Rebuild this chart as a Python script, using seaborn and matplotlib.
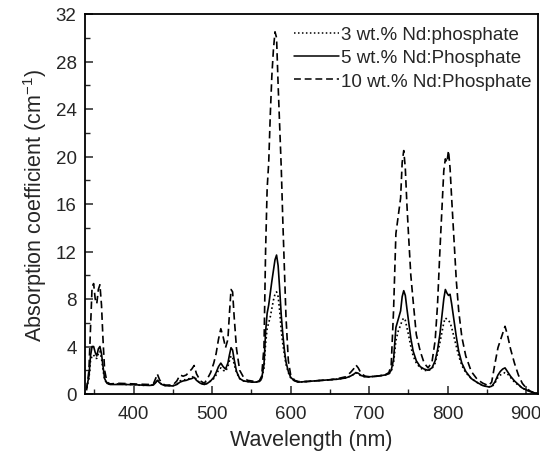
import matplotlib
matplotlib.use("Agg")
import matplotlib.pyplot as plt
from matplotlib.ticker import MultipleLocator
import seaborn as sns
import pandas as pd

wavelength = [340, 343, 345, 347, 349, 351, 353, 355, 357, 359, 361, 363, 366, 370, 380, 390, 400, 410, 420,
              425, 428, 430, 433, 436, 440, 450, 455, 459, 463, 467, 471, 474, 477, 480, 485, 490, 494, 498,
              502, 505, 508, 511, 514, 517, 520, 522, 524, 526, 528, 531, 535, 540, 545, 550, 555, 560, 563,
              566, 568, 570, 572, 574, 576, 578, 580, 582, 584, 586, 588, 590, 592, 594, 597, 600, 605, 610,
              620, 630, 640, 650, 660, 670, 676, 680, 683, 686, 690, 695, 700, 710, 720, 725, 728, 731, 734,
              737, 740, 742, 744, 746, 748, 750, 753, 756, 760, 765, 770, 775, 780, 784, 787, 790, 793, 795,
              797, 799, 801, 803, 805, 808, 811, 814, 818, 823, 830, 838, 845, 852, 856, 860, 864, 867, 870,
              873, 876, 880, 885, 890, 895, 900, 905, 910, 915]

nd3 = [0.5, 1.3, 2.8, 3.2, 3.3, 3.0, 3.0, 3.4, 3.6, 3.0, 2.0, 1.2, 0.9, 0.82, 0.85, 0.8, 0.8, 0.72, 0.75,
       0.78, 1.0, 1.2, 0.95, 0.8, 0.72, 0.7, 0.85, 1.1, 1.2, 1.2, 1.3, 1.4, 1.5, 1.2, 0.9, 0.82, 0.9, 1.1,
       1.3, 1.6, 2.0, 2.2, 2.0, 1.9, 2.3, 2.8, 3.2, 3.1, 2.5, 1.8, 1.3, 1.1, 1.05, 1.0, 1.0, 1.05, 1.25,
       2.2, 4.2, 5.5, 6.0, 6.5, 7.2, 7.9, 8.4, 8.6, 8.2, 7.0, 5.3, 4.2, 3.3, 2.5, 1.8, 1.35, 1.1, 1.0,
       1.05, 1.1, 1.15, 1.2, 1.25, 1.35, 1.5, 1.65, 1.8, 1.7, 1.5, 1.45, 1.45, 1.5, 1.6, 1.7, 1.9, 2.6, 4.5,
       5.3, 5.8, 6.2, 6.4, 6.2, 5.6, 5.0, 4.0, 3.2, 2.6, 2.2, 2.0, 1.95, 2.15, 2.6, 3.4, 4.3, 5.3, 6.0,
       6.4, 6.3, 6.2, 6.0, 5.6, 4.8, 4.0, 3.2, 2.4, 1.8, 1.3, 0.95, 0.7, 0.6, 0.6, 0.9, 1.4, 1.6, 1.7,
       1.8, 1.7, 1.4, 1.0, 0.75, 0.5, 0.35, 0.2, 0.1, 0.05]

nd5 = [0.5, 1.5, 3.2, 4.0, 4.0, 3.5, 3.2, 3.8, 4.0, 3.4, 2.3, 1.3, 0.9, 0.8, 0.8, 0.8, 0.78, 0.75, 0.72,
       0.75, 0.95, 1.15, 0.95, 0.8, 0.7, 0.68, 0.8, 1.0, 1.1, 1.15, 1.25, 1.3, 1.4, 1.15, 0.9, 0.8, 0.9, 1.1,
       1.4, 1.8, 2.3, 2.6, 2.3, 2.1, 2.6, 3.3, 3.9, 3.7, 2.9, 1.9, 1.3, 1.1, 1.05, 1.0, 1.0, 1.05, 1.3,
       2.5, 5.2, 6.8, 7.5, 8.5, 9.5, 10.4, 11.3, 11.7, 10.8, 8.8, 6.6, 5.0, 3.7, 2.7, 1.9, 1.4, 1.1, 1.0,
       1.05, 1.1, 1.15, 1.2, 1.25, 1.35, 1.5, 1.65, 1.8, 1.75, 1.55, 1.45, 1.45, 1.5, 1.6, 1.7, 2.0, 2.9, 5.6,
       6.3, 7.0, 8.2, 8.7, 8.3, 7.2, 6.2, 4.7, 3.6, 2.8, 2.3, 2.1, 2.0, 2.2, 2.8, 3.7, 5.0, 6.8, 8.0,
       8.8, 8.5, 8.3, 8.4, 7.6, 6.2, 4.8, 3.6, 2.6, 1.9, 1.3, 0.95, 0.7, 0.6, 0.65, 1.0, 1.6, 1.9, 2.1,
       2.2, 1.9, 1.5, 1.1, 0.8, 0.5, 0.35, 0.2, 0.1, 0.05]

nd10 = [0.3, 2.0, 5.5, 9.0, 9.3, 8.0, 7.6, 8.8, 9.2, 7.5, 4.5, 2.0, 1.0, 0.85, 0.9, 0.88, 0.85, 0.82, 0.8,
        0.85, 1.3, 1.7, 1.2, 0.9, 0.75, 0.75, 1.1, 1.6, 1.5, 1.6, 1.9, 2.1, 2.4, 1.7, 1.1, 0.9, 1.3, 1.8,
        2.6, 3.4, 4.6, 5.5, 4.8, 3.9, 4.6, 6.8, 8.8, 8.6, 6.5, 3.8, 2.0, 1.4, 1.15, 1.1, 1.05, 1.1, 1.5,
        4.0, 12.0, 17.3, 19.5, 23.5, 26.8, 29.0, 30.5, 30.0, 26.0, 22.5, 19.0, 14.5, 10.5, 6.5, 2.8, 1.6, 1.15, 1.05,
        1.05, 1.1, 1.15, 1.2, 1.3, 1.45, 1.8, 2.1, 2.45, 2.2, 1.7, 1.5, 1.45, 1.5, 1.6, 1.8, 2.4, 7.0, 13.5,
        15.0, 16.5, 19.5, 20.5, 19.0, 16.0, 13.5, 10.0, 7.8, 5.0, 3.6, 2.6, 2.2, 2.7, 4.5, 7.5, 12.0, 16.0, 18.8,
        19.8, 19.5, 20.5, 19.0, 16.5, 13.0, 9.5, 7.0, 4.8, 3.2, 1.9, 1.2, 0.9, 0.7, 1.0, 2.5, 3.9, 4.5, 5.1,
        5.7, 5.0, 3.8, 2.6, 1.6, 0.9, 0.5, 0.25, 0.1, 0.05]

labels = ["3 wt.% Nd:phosphate", "5 wt.% Nd:Phosphate", "10 wt.% Nd:Phosphate"]
x_ticks = [400, 500, 600, 700, 800, 900]
y_ticks = [0, 4, 8, 12, 16, 20, 24, 28, 32]

frames = []
for lab, vals in zip(labels, [nd3, nd5, nd10]):
    frames.append(pd.DataFrame({"Wavelength": wavelength, "Absorption": vals, "Sample": lab}))
df = pd.concat(frames, ignore_index=True)

sns.set_style("ticks")
plt.rcParams["font.family"] = ["Liberation Sans", "DejaVu Sans"]

fig = plt.figure(figsize=(5.4, 4.56), dpi=100)
ax = fig.add_axes([85 / 540, 1 - 395 / 456, (538 - 85) / 540, (395 - 15) / 456])

sns.lineplot(data=df, x="Wavelength", y="Absorption", hue="Sample", style="Sample",
             palette=["black", "black", "black"],
             dashes={labels[0]: (1, 1.6), labels[1]: "", labels[2]: (4.5, 2.5)},
             linewidth=1.2, ax=ax, legend=True, sort=False)

ax.set_xlim(338, 915)
ax.set_ylim(0, 32)
ax.set_xticks(x_ticks)
ax.set_yticks(y_ticks)
ax.xaxis.set_minor_locator(MultipleLocator(50))
ax.yaxis.set_minor_locator(MultipleLocator(2))
ax.tick_params(which="major", direction="in", length=6, width=1.1, labelsize=13.5, pad=6)
ax.tick_params(which="minor", direction="in", length=3.5, width=1.0)
ax.tick_params(axis="x", pad=8)
for s in ax.spines.values():
    s.set_visible(True)
    s.set_linewidth(1.3)
    s.set_color("black")

ax.set_xlabel("Wavelength (nm)", fontsize=15.5, labelpad=5)
ax.set_ylabel("Absorption coefficient (cm$^{\\mathregular{-1}}$)", fontsize=15.5, labelpad=5)

leg = ax.legend(loc="upper right", frameon=False, fontsize=13.5, handlelength=2.4,
                handletextpad=0.12, labelspacing=0.32, borderaxespad=0.05,
                bbox_to_anchor=(1.005, 0.99))
for line in leg.get_lines():
    line.set_linewidth(1.1)

fig.savefig("out.png", dpi=100)
